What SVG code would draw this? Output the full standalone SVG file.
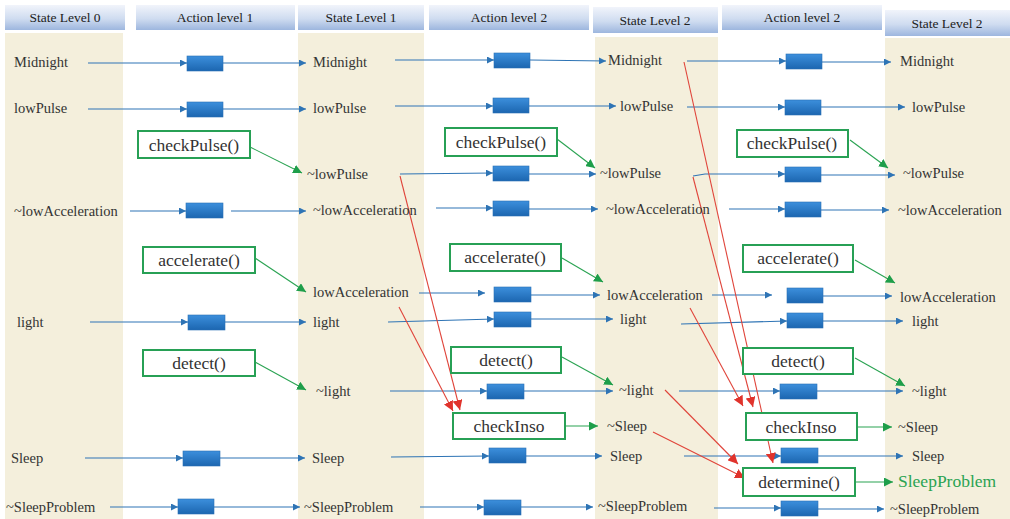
<svg xmlns="http://www.w3.org/2000/svg" width="1010" height="519" viewBox="0 0 1010 519">
  <defs>
    <linearGradient id="hdr" x1="0" y1="0" x2="0" y2="1">
      <stop offset="0" stop-color="#f1f4fb"/>
      <stop offset="0.55" stop-color="#cfdcf0"/>
      <stop offset="1" stop-color="#9db6de"/>
    </linearGradient>
    <linearGradient id="act" x1="0" y1="0" x2="0" y2="1">
      <stop offset="0" stop-color="#3c8fdc"/>
      <stop offset="1" stop-color="#1c66b0"/>
    </linearGradient>
    <marker id="ab" viewBox="0 0 8 8" refX="8" refY="4" markerWidth="7" markerHeight="7" markerUnits="userSpaceOnUse" orient="auto">
      <path d="M0,0 L8,4 L0,8 Z" fill="#2e74b5"/>
    </marker>
    <marker id="ag" viewBox="0 0 8 8" refX="8" refY="4" markerWidth="9" markerHeight="9" markerUnits="userSpaceOnUse" orient="auto">
      <path d="M0,0 L8,4 L0,8 Z" fill="#1e9e4a"/>
    </marker>
    <marker id="ar" viewBox="0 0 8 8" refX="8" refY="4" markerWidth="10" markerHeight="10" markerUnits="userSpaceOnUse" orient="auto">
      <path d="M0,0 L8,4 L0,8 Z" fill="#e0332c"/>
    </marker>
  </defs>
  <style>
    .hdr { fill: url(#hdr); }
    .ht { font-family: "Liberation Serif", "DejaVu Serif", serif; font-size: 13.5px; fill: #222; text-anchor: middle; }
    .col { fill: #f4efdc; }
    .st { font-family: "Liberation Serif", "DejaVu Serif", serif; font-size: 14.5px; fill: #333; }
    .act { fill: url(#act); stroke: #2a70b4; stroke-width: 0.6; }
    .fn rect { fill: #fff; stroke: #27a055; stroke-width: 2; }
    .fn text { font-family: "Liberation Serif", "DejaVu Serif", serif; font-size: 17.5px; fill: #333; text-anchor: middle; }
    .res { font-family: "Liberation Serif", "DejaVu Serif", serif; font-size: 17.5px; fill: #2aa352; }
    .b { stroke: #2e74b5; stroke-width: 1.1; fill: none; marker-end: url(#ab); }
    .g { stroke: #2aa352; stroke-width: 1.1; fill: none; marker-end: url(#ag); }
    .r { stroke: #e0443a; stroke-width: 1.1; fill: none; marker-end: url(#ar); }
  </style>

  <rect width="1010" height="519" fill="#ffffff"/>

  <!-- state level columns -->
  <rect class="col" x="5" y="33" width="118" height="486"/>
  <rect class="col" x="298" y="33" width="126" height="486"/>
  <rect class="col" x="595" y="37" width="123" height="482"/>
  <rect class="col" x="885" y="38" width="125" height="481"/>

  <!-- column headers -->
  <g id="headers">
    <rect class="hdr" x="5" y="5" width="120" height="25"/>
    <text class="ht" x="65" y="22">State Level 0</text>
    <rect class="hdr" x="136" y="5" width="159" height="25"/>
    <text class="ht" x="215" y="22">Action level 1</text>
    <rect class="hdr" x="298" y="5" width="126" height="25"/>
    <text class="ht" x="361" y="22">State Level 1</text>
    <rect class="hdr" x="429" y="5" width="160" height="25"/>
    <text class="ht" x="509" y="22">Action level 2</text>
    <rect class="hdr" x="593" y="7" width="125" height="26"/>
    <text class="ht" x="655" y="25">State Level 2</text>
    <rect class="hdr" x="722" y="5" width="160" height="25"/>
    <text class="ht" x="802" y="22">Action level 2</text>
    <rect class="hdr" x="885" y="10" width="125" height="26"/>
    <text class="ht" x="947" y="28">State Level 2</text>
  </g>

  <!-- connectors -->
  <g id="connectors">
    <!-- level 0 to level 1 -->
    <line class="b" x1="88" y1="63" x2="187" y2="63"/>
    <line class="b" x1="223" y1="63" x2="306" y2="63"/>
    <line class="b" x1="88" y1="109" x2="187" y2="109"/>
    <line class="b" x1="223" y1="109" x2="306" y2="109"/>
    <line class="b" x1="130" y1="211" x2="186" y2="211"/>
    <line class="b" x1="231" y1="211" x2="306" y2="211"/>
    <line class="b" x1="90" y1="322" x2="188" y2="322"/>
    <line class="b" x1="224" y1="322" x2="306" y2="322"/>
    <line class="b" x1="85" y1="458" x2="183" y2="458"/>
    <line class="b" x1="219" y1="458" x2="305" y2="458"/>
    <line class="b" x1="110" y1="507" x2="178" y2="507"/>
    <line class="b" x1="214" y1="507" x2="300" y2="507"/>
    <!-- level 1 to level 2 -->
    <line class="b" x1="395" y1="60" x2="494" y2="60"/>
    <line class="b" x1="530" y1="60" x2="606" y2="61"/>
    <line class="b" x1="395" y1="106" x2="493" y2="106"/>
    <line class="b" x1="529" y1="106" x2="616" y2="106"/>
    <line class="b" x1="400" y1="174" x2="493" y2="173"/>
    <line class="b" x1="529" y1="174" x2="596" y2="174"/>
    <line class="b" x1="436" y1="208" x2="493" y2="208"/>
    <line class="b" x1="529" y1="209" x2="598" y2="209"/>
    <line class="b" x1="419" y1="293" x2="485" y2="293"/>
    <line class="b" x1="530" y1="295" x2="600" y2="295"/>
    <line class="b" x1="388" y1="322" x2="494" y2="319"/>
    <line class="b" x1="530" y1="319" x2="613" y2="319"/>
    <line class="b" x1="390" y1="391" x2="487" y2="391"/>
    <line class="b" x1="523" y1="391" x2="613" y2="391"/>
    <line class="b" x1="391" y1="457" x2="489" y2="456"/>
    <line class="b" x1="525" y1="456" x2="602" y2="456"/>
    <line class="b" x1="420" y1="507" x2="484" y2="507"/>
    <line class="b" x1="520" y1="507" x2="593" y2="507"/>
    <!-- level 2 to final level -->
    <line class="b" x1="687" y1="61" x2="786" y2="61"/>
    <line class="b" x1="822" y1="62" x2="891" y2="62"/>
    <line class="b" x1="687" y1="107" x2="785" y2="107"/>
    <line class="b" x1="821" y1="107" x2="905" y2="107"/>
    <polyline class="b" points="693,176 705,174 785,174"/>
    <line class="b" x1="821" y1="175" x2="895" y2="175"/>
    <line class="b" x1="729" y1="209" x2="785" y2="209"/>
    <line class="b" x1="821" y1="210" x2="889" y2="210"/>
    <line class="b" x1="712" y1="295" x2="772" y2="295"/>
    <line class="b" x1="823" y1="296" x2="892" y2="296"/>
    <line class="b" x1="681" y1="324" x2="787" y2="321"/>
    <line class="b" x1="823" y1="321" x2="903" y2="321"/>
    <line class="b" x1="679" y1="391" x2="780" y2="391"/>
    <line class="b" x1="816" y1="391" x2="903" y2="391"/>
    <line class="b" x1="684" y1="456" x2="781" y2="456"/>
    <line class="b" x1="817" y1="456" x2="903" y2="456"/>
    <line class="b" x1="714" y1="508" x2="781" y2="508"/>
    <line class="b" x1="817" y1="509" x2="884" y2="509"/>

    <!-- function outputs -->
    <line class="g" x1="250" y1="147" x2="302" y2="173"/>
    <line class="g" x1="255" y1="258" x2="306" y2="292"/>
    <line class="g" x1="255" y1="362" x2="306" y2="390"/>
    <line class="g" x1="557" y1="139" x2="595" y2="168"/>
    <line class="g" x1="562" y1="258" x2="603" y2="282"/>
    <line class="g" x1="562" y1="357" x2="613" y2="385"/>
    <line class="g" x1="565" y1="426" x2="598" y2="426"/>
    <line class="g" x1="850" y1="140" x2="888" y2="168"/>
    <line class="g" x1="855" y1="260" x2="895" y2="283"/>
    <line class="g" x1="855" y1="358" x2="905" y2="386"/>
    <line class="g" x1="857" y1="427" x2="892" y2="427"/>
    <line class="g" x1="855" y1="482" x2="893" y2="482"/>

    <!-- inputs to checkInso / determine -->
    <line class="r" x1="400" y1="176" x2="460" y2="410"/>
    <line class="r" x1="399" y1="307" x2="453" y2="411"/>
    <line class="r" x1="684" y1="62" x2="773" y2="463"/>
    <line class="r" x1="693" y1="177" x2="753" y2="407"/>
    <line class="r" x1="690" y1="308" x2="743" y2="406"/>
    <line class="r" x1="665" y1="390" x2="738" y2="464"/>
    <line class="r" x1="653" y1="432" x2="745" y2="478"/>
  </g>

  <!-- State Level 0 -->
  <g id="s0">
    <text class="st" x="14" y="67">Midnight</text>
    <text class="st" x="14" y="113">lowPulse</text>
    <text class="st" x="14" y="216">~lowAcceleration</text>
    <text class="st" x="17" y="327">light</text>
    <text class="st" x="11" y="463">Sleep</text>
    <text class="st" x="6" y="512">~SleepProblem</text>
  </g>

  <!-- Action level 1 -->
  <g id="a1">
    <rect class="act" x="187" y="56" width="36" height="15"/>
    <rect class="act" x="187" y="102" width="36" height="15"/>
    <rect class="act" x="186" y="203" width="37" height="15"/>
    <rect class="act" x="188" y="315" width="37" height="15"/>
    <rect class="act" x="183" y="451" width="37" height="15"/>
    <rect class="act" x="178" y="499" width="36" height="15"/>
  </g>
  <g id="checkPulse1" class="fn"><rect x="138" y="131" width="112" height="27"/><text x="194" y="151">checkPulse()</text></g>
  <g id="accelerate1" class="fn"><rect x="143" y="247" width="112" height="26"/><text x="199" y="266">accelerate()</text></g>
  <g id="detect1" class="fn"><rect x="143" y="350" width="112" height="26"/><text x="199" y="369">detect()</text></g>

  <!-- State Level 1 -->
  <g id="s1">
    <text class="st" x="313" y="67">Midnight</text>
    <text class="st" x="313" y="113">lowPulse</text>
    <text class="st" x="307" y="179">~lowPulse</text>
    <text class="st" x="313" y="215">~lowAcceleration</text>
    <text class="st" x="313" y="297">lowAcceleration</text>
    <text class="st" x="313" y="327">light</text>
    <text class="st" x="316" y="396">~light</text>
    <text class="st" x="312" y="463">Sleep</text>
    <text class="st" x="304" y="512">~SleepProblem</text>
  </g>

  <!-- Action level 2 -->
  <g id="a2">
    <rect class="act" x="494" y="53" width="36" height="15"/>
    <rect class="act" x="493" y="98" width="36" height="15"/>
    <rect class="act" x="493" y="166" width="36" height="15"/>
    <rect class="act" x="493" y="201" width="36" height="15"/>
    <rect class="act" x="494" y="287" width="37" height="15"/>
    <rect class="act" x="494" y="312" width="37" height="15"/>
    <rect class="act" x="487" y="384" width="37" height="15"/>
    <rect class="act" x="489" y="448" width="37" height="15"/>
    <rect class="act" x="484" y="500" width="37" height="15"/>
  </g>
  <g id="checkPulse2" class="fn"><rect x="445" y="128" width="112" height="28"/><text x="501" y="148">checkPulse()</text></g>
  <g id="accelerate2" class="fn"><rect x="450" y="244" width="111" height="27"/><text x="505" y="263">accelerate()</text></g>
  <g id="detect2" class="fn"><rect x="451" y="347" width="110" height="26"/><text x="506" y="366">detect()</text></g>
  <g id="checkInso2" class="fn"><rect x="453" y="413" width="112" height="26"/><text x="509" y="432">checkInso</text></g>

  <!-- State Level 2 -->
  <g id="s2">
    <text class="st" x="608" y="65">Midnight</text>
    <text class="st" x="620" y="111">lowPulse</text>
    <text class="st" x="600" y="178">~lowPulse</text>
    <text class="st" x="606" y="214">~lowAcceleration</text>
    <text class="st" x="607" y="300">lowAcceleration</text>
    <text class="st" x="620" y="324">light</text>
    <text class="st" x="619" y="395">~light</text>
    <text class="st" x="607" y="431">~Sleep</text>
    <text class="st" x="610" y="461">Sleep</text>
    <text class="st" x="598" y="511">~SleepProblem</text>
  </g>

  <!-- Action level 2 (second) -->
  <g id="a3">
    <rect class="act" x="786" y="54" width="36" height="15"/>
    <rect class="act" x="785" y="100" width="36" height="15"/>
    <rect class="act" x="785" y="167" width="36" height="15"/>
    <rect class="act" x="785" y="202" width="36" height="15"/>
    <rect class="act" x="787" y="288" width="36" height="15"/>
    <rect class="act" x="787" y="313" width="36" height="15"/>
    <rect class="act" x="780" y="384" width="37" height="15"/>
    <rect class="act" x="781" y="448" width="37" height="15"/>
    <rect class="act" x="781" y="501" width="37" height="15"/>
  </g>
  <g id="checkPulse3" class="fn"><rect x="737" y="130" width="111" height="27"/><text x="792" y="149">checkPulse()</text></g>
  <g id="accelerate3" class="fn"><rect x="743" y="245" width="110" height="27"/><text x="798" y="264">accelerate()</text></g>
  <g id="detect3" class="fn"><rect x="743" y="348" width="110" height="26"/><text x="798" y="367">detect()</text></g>
  <g id="checkInso3" class="fn"><rect x="746" y="413" width="111" height="27"/><text x="801" y="433">checkInso</text></g>
  <g id="determine" class="fn"><rect x="743" y="468" width="112" height="28"/><text x="799" y="488">determine()</text></g>

  <!-- final State Level 2 -->
  <g id="s3">
    <text class="st" x="900" y="66">Midnight</text>
    <text class="st" x="912" y="112">lowPulse</text>
    <text class="st" x="903" y="178">~lowPulse</text>
    <text class="st" x="898" y="215">~lowAcceleration</text>
    <text class="st" x="900" y="302">lowAcceleration</text>
    <text class="st" x="912" y="326">light</text>
    <text class="st" x="912" y="396">~light</text>
    <text class="st" x="898" y="432">~Sleep</text>
    <text class="st" x="912" y="461">Sleep</text>
    <text class="res" x="898" y="487">SleepProblem</text>
    <text class="st" x="890" y="514">~SleepProblem</text>
  </g>
</svg>
